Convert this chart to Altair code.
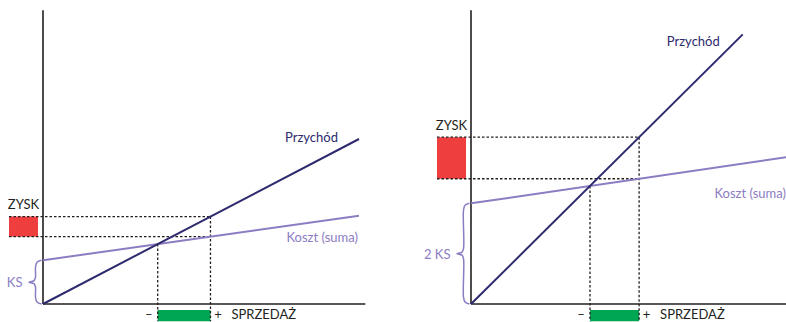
import altair as alt
import pandas as pd

# ---------------- data ----------------
panels = ["left", "right"]
price = [10.0, 19.0]          # revenue per unit sold (slope of "Przychód")
fixed_cost = [26.5, 61.0]     # KS / 2 KS (intercept of "Koszt (suma)")
var_cost = [2.7, 2.8]         # variable cost per unit (slope of cost line)
sales = [5.3, 5.32]           # actual sales volume
revenue_end = [10.0, 8.6]     # last sales value of revenue line
cost_end = [10.0, 10.0]       # last sales value of cost line
axis_x_end = [10.2, 10.0]
axis_y_top = [178.0, 178.0]
fixed_labels = ["KS", "2 KS"]
profit_label = "ZYSK"
sales_label = "SPRZEDAŻ"
revenue_label = "Przychód"
cost_label = "Koszt (suma)"
minus_label = "–"
plus_label = "+"

# ---------------- layout / style ----------------
W, H = 786, 322
ORIGIN_X = [43, 471]
BASE_Y = 304
SX = 31.6   # px per unit of sales
SY = 1.65   # px per unit of value
REV_LABEL_OFF = [(-21, 3.0), (-23, 11.6)]    # px (dx right, dy down) from revenue line end
COST_LABEL_OFF = [(-1, 26.3), (-1, 40.8)]    # px from cost line end

NAVY = "#2d2a6e"
LAV = "#8c7cc3"
RED = "#ef3e3e"
GREEN = "#00a651"
INK = "#231f20"
FONT = "Lato"
FS = 13


def px_x(dx):
    return dx / SX


def px_y(dy_down):
    return -dy_down / SY


def panel(i):
    p, ks, v, s = price[i], fixed_cost[i], var_cost[i], sales[i]
    be = ks / (p - v)

    def rev(q):
        return p * q

    def cost(q):
        return ks + v * q

    xs = alt.Scale(domain=[-ORIGIN_X[i] / SX, (W - ORIGIN_X[i]) / SX], nice=False, zero=False)
    ys = alt.Scale(domain=[-(H - BASE_Y) / SY, BASE_Y / SY], nice=False, zero=False)
    X = alt.X("x:Q", scale=xs, axis=None)
    Y = alt.Y("y:Q", scale=ys, axis=None)

    box_x0, box_x1 = px_x(-34), px_x(-5)
    low = px_y(17.3)

    red = alt.Chart(pd.DataFrame({"x": [box_x0], "x2": [box_x1], "y": [cost(s)], "y2": [rev(s)]})).mark_rect(
        color=RED).encode(x=X, x2="x2", y=Y, y2="y2")
    green = alt.Chart(pd.DataFrame({"x": [be], "x2": [s], "y": [px_y(6)], "y2": [low]})).mark_rect(
        color=GREEN).encode(x=X, x2="x2", y=Y, y2="y2")

    dashed_df = pd.DataFrame({
        "x": [box_x0, box_x0, be, s],
        "x2": [s, s, be, s],
        "y": [rev(s), cost(s), cost(be), rev(s)],
        "y2": [rev(s), cost(s), low, low],
    })
    dashed = alt.Chart(dashed_df).mark_rule(color=INK, strokeDash=[2.5, 2], strokeWidth=1.3).encode(
        x=X, x2="x2", y=Y, y2="y2")

    axes_df = pd.DataFrame({"x": [0, 0], "x2": [axis_x_end[i], 0], "y": [0, 0], "y2": [0, axis_y_top[i]]})
    axes = alt.Chart(axes_df).mark_rule(color=INK, strokeWidth=1.6).encode(x=X, x2="x2", y=Y, y2="y2")

    lines_df = pd.DataFrame({
        "x": [0, cost_end[i], 0, revenue_end[i]],
        "y": [cost(0), cost(cost_end[i]), rev(0), rev(revenue_end[i])],
        "series": ["cost", "cost", "revenue", "revenue"],
        "c": [LAV, LAV, NAVY, NAVY],
    })
    lines = alt.Chart(lines_df).mark_line(strokeWidth=2).encode(
        x=X, y=Y, color=alt.Color("c:N", scale=None), detail="series:N")

    # curly brace spanning the fixed cost
    tip, spine, point = -1.5, -7.5, -14.0
    mid = ks / 2
    bx = [tip, spine + 1.5, spine, spine, spine - 1.5, point, spine - 1.5, spine, spine, spine + 1.5, tip]
    by = [ks, ks - 2 / SY, ks - 7 / SY, mid + 5 / SY, mid + 1.5 / SY, mid,
          mid - 1.5 / SY, mid - 5 / SY, 7 / SY, 2 / SY, 0]
    brace_df = pd.DataFrame({"x": [px_x(b) for b in bx], "y": by, "o": list(range(len(bx)))})
    brace = alt.Chart(brace_df).mark_line(color=LAV, strokeWidth=1.5, interpolate="catmull-rom").encode(
        x=X, y=Y, order="o:Q")

    C = alt.Color("c:N", scale=None)
    base_txt = px_y(15.3)
    center_df = pd.DataFrame({
        "x": [px_x(-19.5), be + px_x(-9), s + px_x(7.5)],
        "y": [rev(s) + 7.5 / SY, base_txt, base_txt],
        "t": [profit_label, minus_label, plus_label],
        "c": [INK, INK, INK],
    })
    left_df = pd.DataFrame({"x": [s + px_x(21)], "y": [base_txt], "t": [sales_label], "c": [INK]})
    rdx, rdy = REV_LABEL_OFF[i]
    cdx, cdy = COST_LABEL_OFF[i]
    right_df = pd.DataFrame({
        "x": [px_x(-20.5), revenue_end[i] + px_x(rdx), cost_end[i] + px_x(cdx)],
        "y": [mid - 5 / SY, rev(revenue_end[i]) - rdy / SY, cost(cost_end[i]) - cdy / SY],
        "t": [fixed_labels[i], revenue_label, cost_label],
        "c": [LAV, NAVY, LAV],
    })
    texts = []
    for df, al in ((center_df, "center"), (left_df, "left"), (right_df, "right")):
        texts.append(alt.Chart(df).mark_text(align=al, baseline="alphabetic", font=FONT, fontSize=FS).encode(
            x=X, y=Y, text="t:N", color=C))

    return alt.layer(red, green, dashed, axes, lines, brace, *texts)


chart = alt.layer(panel(0), panel(1)).resolve_scale(x="independent").properties(
    width=W, height=H, padding=0, autosize=alt.AutoSizeParams(type="none")
).configure_view(stroke=None)

chart.save("out.html", embed_options={"renderer": "svg", "actions": False})
